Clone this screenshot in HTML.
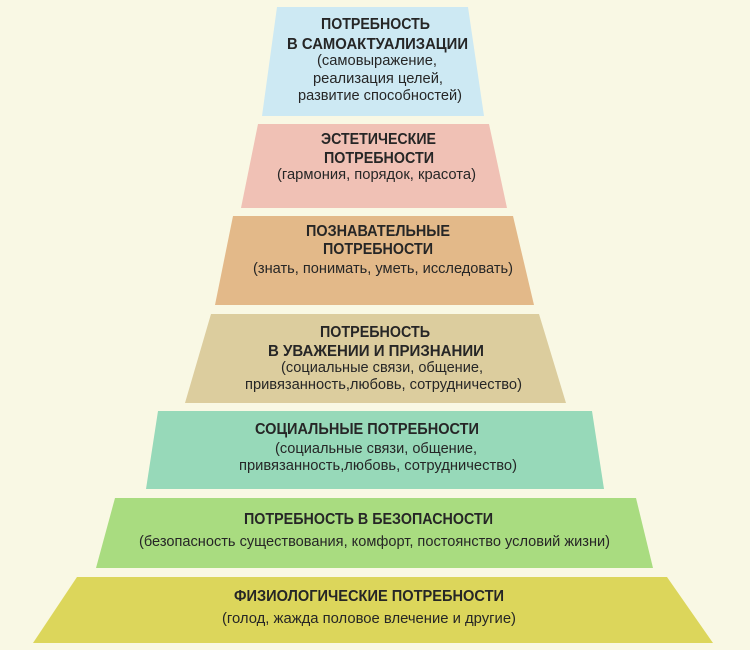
<!DOCTYPE html>
<html><head><meta charset="utf-8"><style>
html,body{margin:0;padding:0;background:#f9f8e4;}
svg{display:block}
text{font-family:"Liberation Sans Narrow","Liberation Sans","DejaVu Sans Condensed",sans-serif;fill:#262626;}
.t{font-weight:bold;font-size:16px;}
.s{font-size:15px;}
</style></head><body>
<svg width="750" height="650" viewBox="0 0 750 650" xmlns="http://www.w3.org/2000/svg">
<rect width="750" height="650" fill="#f9f8e4"/>
<polygon points="277,7 468,7 484,116 262,116" fill="#cde9f3"/>
<polygon points="258,124 489,124 507,208 241,208" fill="#f0c1b5"/>
<polygon points="233,216 513,216 534,305 215,305" fill="#e3b989"/>
<polygon points="211,314 539,314 566,403 185,403" fill="#dccd9e"/>
<polygon points="158,411 592,411 604,489 146,489" fill="#97d9b9"/>
<polygon points="115,498 636,498 653,568 96,568" fill="#a9dc80"/>
<polygon points="77,577 667,577 713,643 33,643" fill="#dcd65b"/>

<text class="t" x="321" y="29" textLength="109" lengthAdjust="spacingAndGlyphs">ПОТРЕБНОСТЬ</text>
<text class="t" x="287" y="49" textLength="181" lengthAdjust="spacingAndGlyphs">В САМОАКТУАЛИЗАЦИИ</text>
<text class="s" x="317" y="65" textLength="120" lengthAdjust="spacingAndGlyphs">(самовыражение,</text>
<text class="s" x="313" y="83" textLength="130" lengthAdjust="spacingAndGlyphs">реализация целей,</text>
<text class="s" x="298" y="100" textLength="164" lengthAdjust="spacingAndGlyphs">развитие способностей)</text>

<text class="t" x="321" y="144" textLength="115" lengthAdjust="spacingAndGlyphs">ЭСТЕТИЧЕСКИЕ</text>
<text class="t" x="324" y="163" textLength="110" lengthAdjust="spacingAndGlyphs">ПОТРЕБНОСТИ</text>
<text class="s" x="277" y="179" textLength="199" lengthAdjust="spacingAndGlyphs">(гармония, порядок, красота)</text>

<text class="t" x="306" y="236" textLength="144" lengthAdjust="spacingAndGlyphs">ПОЗНАВАТЕЛЬНЫЕ</text>
<text class="t" x="323" y="254" textLength="110" lengthAdjust="spacingAndGlyphs">ПОТРЕБНОСТИ</text>
<text class="s" x="253" y="273" textLength="260" lengthAdjust="spacingAndGlyphs">(знать, понимать, уметь, исследовать)</text>

<text class="t" x="320" y="337" textLength="110" lengthAdjust="spacingAndGlyphs">ПОТРЕБНОСТЬ</text>
<text class="t" x="268" y="356" textLength="216" lengthAdjust="spacingAndGlyphs">В УВАЖЕНИИ И ПРИЗНАНИИ</text>
<text class="s" x="281" y="372" textLength="202" lengthAdjust="spacingAndGlyphs">(социальные связи, общение,</text>
<text class="s" x="245" y="389" textLength="277" lengthAdjust="spacingAndGlyphs">привязанность,любовь, сотрудничество)</text>

<text class="t" x="255" y="434" textLength="224" lengthAdjust="spacingAndGlyphs">СОЦИАЛЬНЫЕ ПОТРЕБНОСТИ</text>
<text class="s" x="275" y="453" textLength="202" lengthAdjust="spacingAndGlyphs">(социальные связи, общение,</text>
<text class="s" x="239" y="470" textLength="278" lengthAdjust="spacingAndGlyphs">привязанность,любовь, сотрудничество)</text>

<text class="t" x="244" y="524" textLength="249" lengthAdjust="spacingAndGlyphs">ПОТРЕБНОСТЬ В БЕЗОПАСНОСТИ</text>
<text class="s" x="139" y="546" textLength="471" lengthAdjust="spacingAndGlyphs">(безопасность существования, комфорт, постоянство условий жизни)</text>

<text class="t" x="234" y="601" textLength="270" lengthAdjust="spacingAndGlyphs">ФИЗИОЛОГИЧЕСКИЕ ПОТРЕБНОСТИ</text>
<text class="s" x="222" y="623" textLength="294" lengthAdjust="spacingAndGlyphs">(голод, жажда половое влечение и другие)</text>
</svg>
</body></html>
